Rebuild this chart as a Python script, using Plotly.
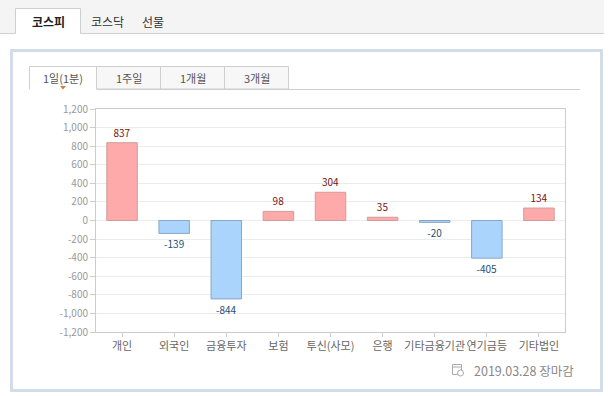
import plotly.graph_objects as go

categories = ["개인", "외국인", "금융투자", "보험", "투신(사모)", "은행", "기타금융기관", "연기금등", "기타법인"]
values = [837, -139, -844, 98, 304, 35, -20, -405, 134]
ytick_vals = [-1200, -1000, -800, -600, -400, -200, 0, 200, 400, 600, 800, 1000, 1200]
ytick_text = ["-1,200", "-1,000", "-800", "-600", "-400", "-200", "0", "200", "400", "600", "800", "1,000", "1,200"]
market_tabs = ["코스피", "코스닥", "선물"]
period_tabs = ["1일(1분)", "1주일", "1개월", "3개월"]
date_text = "2019.03.28 장마감"

W, H = 611, 396
L, R, T, B = 96, 565, 109, 332
PW, PH = R - L, B - T

def px(x):
    return (x - L) / PW

def py(y):
    return (B - y) / PH

FONT = "Noto Sans CJK KR, Dotum, sans-serif"

pos_fill, pos_line, pos_text = "#ffaaaa", "#d39a9a", "#7a1010"
neg_fill, neg_line, neg_text = "#aad4fc", "#86a8c8", "#1d4f78"

fills = [pos_fill if v >= 0 else neg_fill for v in values]
lines = [pos_line if v >= 0 else neg_line for v in values]
tcols = [pos_text if v >= 0 else neg_text for v in values]

fig = go.Figure(go.Bar(
    x=categories, y=values,
    marker=dict(color=fills, line=dict(color=lines, width=1)),
    width=0.585,
    text=[str(v) for v in values],
    textposition="outside",
    textfont=dict(color=tcols, size=10, family=FONT),
    cliponaxis=False,
    hoverinfo="x+y",
))

shapes = []
annotations = []

def rect(x0, y0, x1, y1, fill=None, line=None, lw=1, layer="below"):
    shapes.append(dict(type="rect", xref="paper", yref="paper",
                       x0=px(x0), x1=px(x1), y0=py(y0), y1=py(y1),
                       fillcolor=fill if fill else "rgba(0,0,0,0)",
                       line=dict(color=line if line else "rgba(0,0,0,0)", width=lw if line else 0),
                       layer=layer))

def hline(x0, x1, y, color, lw=1):
    shapes.append(dict(type="line", xref="paper", yref="paper",
                       x0=px(x0), x1=px(x1), y0=py(y), y1=py(y),
                       line=dict(color=color, width=lw), layer="below"))

def vline(x, y0, y1, color, lw=1):
    shapes.append(dict(type="line", xref="paper", yref="paper",
                       x0=px(x), x1=px(x), y0=py(y0), y1=py(y1),
                       line=dict(color=color, width=lw), layer="below"))

def text(x, y, s, size=11, color="#555", bold=False, xanchor="center"):
    annotations.append(dict(xref="paper", yref="paper", x=px(x), y=py(y), text=("<b>%s</b>" % s) if bold else s,
                            showarrow=False, xanchor=xanchor, yanchor="middle",
                            font=dict(size=size, color=color, family=FONT)))

# top tab bar
rect(0, 0, 604, 33.5, fill="#f4f4f4")
hline(0, 604, 33.5, "#cfcfcf")
rect(15.5, 8.5, 80.5, 34, fill="#ffffff")
vline(15.5, 8.5, 33.5, "#cfcfcf")
vline(80.5, 8.5, 33.5, "#cfcfcf")
hline(15.5, 80.5, 8.5, "#cfcfcf")
text(48, 21, market_tabs[0], size=12, color="#222", bold=True)
text(107, 21, market_tabs[1], size=12, color="#333")
text(153, 21, market_tabs[2], size=12, color="#333")

# outer panel
rect(11.5, 50.5, 601.5, 390.5, fill="#ffffff", line="#d2dde9", lw=3)

# period tabs
tab_edges = [29.5, 96.5, 160.5, 224.5, 288.5]
for i in range(1, 4):
    rect(tab_edges[i], 66.5, tab_edges[i + 1], 89, fill="#f7f7f7", line="#cfcfcf")
vline(29.5, 66.5, 89, "#cfcfcf")
hline(29.5, 96.5, 66.5, "#cfcfcf")
hline(96.5, 580, 89.5, "#cfcfcf")
for i, lab in enumerate(period_tabs):
    text((tab_edges[i] + tab_edges[i + 1]) / 2, 78, lab, size=11, color="#555")
shapes.append(dict(type="path", xref="paper", yref="paper",
                   path="M %f,%f L %f,%f L %f,%f Z" % (px(60), py(86), px(66), py(86), px(63), py(89.5)),
                   fillcolor="#e07b2c", line=dict(width=0), layer="below"))

# date footer with small calendar icon
rect(452.5, 364.5, 461.5, 374.5, line="#aaaaaa")
hline(452.5, 461.5, 367, "#aaaaaa")
shapes.append(dict(type="circle", xref="paper", yref="paper",
                   x0=px(457.5), x1=px(463.5), y0=py(376), y1=py(370),
                   fillcolor="#ffffff", line=dict(color="#aaaaaa", width=1), layer="below"))
text(576, 370, date_text, size=12.5, color="#888", xanchor="right")

fig.update_layout(
    width=W, height=H,
    margin=dict(l=L, r=W - R, t=T, b=H - B, pad=0),
    paper_bgcolor="#ffffff", plot_bgcolor="#ffffff",
    showlegend=False,
    bargap=0.415,
    shapes=shapes,
    annotations=annotations,
    font=dict(family=FONT),
)
fig.update_yaxes(range=[-1200, 1200], tickvals=ytick_vals, ticktext=ytick_text,
                 showgrid=True, gridcolor="#ececec", gridwidth=1, zeroline=False,
                 showline=True, linecolor="#cccccc", mirror=True,
                 ticks="outside", ticklen=5, tickcolor="#cccccc",
                 tickfont=dict(size=10, color="#999999", family=FONT), fixedrange=True)
fig.update_xaxes(showgrid=False, showline=True, linecolor="#cccccc", mirror=True,
                 ticks="outside", ticklen=4, tickcolor="#cccccc",
                 tickfont=dict(size=11, color="#666666", family=FONT), tickangle=0, fixedrange=True)

fig.write_html("out.html", config={"displayModeBar": False},
               post_script="document.body.style.margin='0';document.body.style.padding='0';")
